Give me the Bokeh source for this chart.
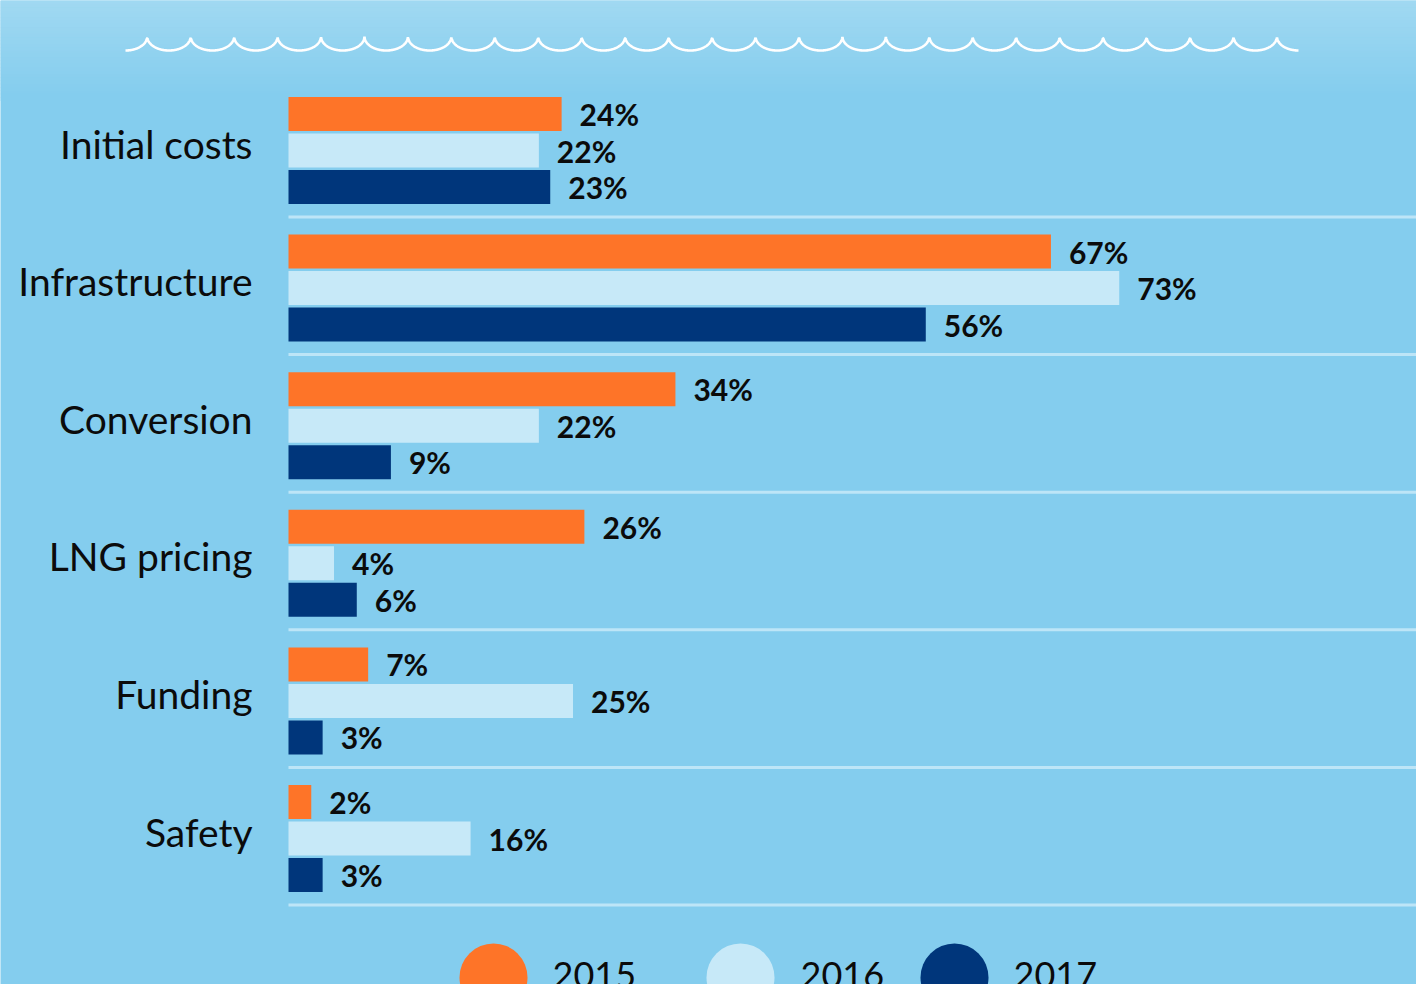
import numpy as np
from bokeh.plotting import figure
from bokeh.models import Range1d, ColumnDataSource
from bokeh.core.properties import value
from bokeh.embed import file_html
from bokeh.resources import INLINE

# ---- data ----
categories = ["Initial costs", "Infrastructure", "Conversion", "LNG pricing", "Funding", "Safety"]
years = ["2015", "2016", "2017"]
v2015 = [24, 67, 34, 26, 7, 2]
v2016 = [22, 73, 22, 4, 25, 16]
v2017 = [23, 56, 9, 6, 3, 3]
series = [v2015, v2016, v2017]
colors = ["#fe7428", "#c7e9f8", "#00367b"]

# ---- layout (canvas pixels) ----
W, H = 1416, 984
PX_PER_PCT = 11.38
X0 = 288.0                      # canvas x of 0 %
x_start = -X0 / PX_PER_PCT
x_end = (W - X0) / PX_PER_PCT


def px2x(cx):
    return (cx - X0) / PX_PER_PCT


GROUP_TOP = 96.0
GROUP_STEP = 137.6
BAR_OFFS = [17.5, 54.0, 90.5]
BAR_H = 34
SEP_OFF = 120.5

BG = "#84cdee"
TXT = "#0b0b0b"

p = figure(width=W, height=H, x_range=Range1d(x_start, x_end), y_range=Range1d(H, 0),
           output_backend="svg", toolbar_location=None, min_border=0)
p.axis.visible = False
p.grid.visible = False
p.outline_line_color = None
p.background_fill_color = BG
p.border_fill_color = BG

# background gradient at top
n_bands = 30
top_c = np.array([160, 217, 242])
bot_c = np.array([132, 205, 238])
edges = np.linspace(0, 100, n_bands + 1)
band_cols = []
for i in range(n_bands):
    t = i / (n_bands - 1)
    c = (top_c * (1 - t) + bot_c * t).astype(int)
    band_cols.append("#%02x%02x%02x" % tuple(c))
p.quad(left=x_start, right=x_end, top=edges[:-1], bottom=edges[1:] + 0.5,
       fill_color=band_cols, line_color=None)

# wave decoration
wx = np.linspace(125, 1298, 3000)
u = ((wx - 125) / 43.45) % 1.0
vph = (u + 0.5) % 1.0
wy = 36 + 14 * np.sqrt(np.clip(1 - (2 * vph - 1) ** 2, 0, 1))
p.line(px2x(wx), wy, line_color="white", line_width=2.6)

# bars
for si, vals in enumerate(series):
    ys = [GROUP_TOP + GROUP_STEP * k + BAR_OFFS[si] for k in range(len(categories))]
    src = ColumnDataSource(dict(y=ys, v=vals, lab=[f"{v}%" for v in vals]))
    p.hbar(y="y", left=0, right="v", height=BAR_H, source=src,
           fill_color=colors[si], line_color=None)
    p.text(x="v", y="y", text="lab", source=src, x_offset=18, y_offset=0,
           text_font=value("Lato"), text_font_style="bold", text_font_size="30px",
           text_color=TXT, text_baseline="middle", text_align="left")

# separators
sep_y = [GROUP_TOP + GROUP_STEP * k + SEP_OFF for k in range(len(categories))]
p.segment(x0=0, x1=x_end, y0=sep_y, y1=sep_y, line_color="#bde5f7", line_width=3)

# category labels
cat_y = [GROUP_TOP + GROUP_STEP * k + 47 for k in range(len(categories))]
p.text(x=px2x(252), y=cat_y, text=categories, text_font=value("Lato"),
       text_font_size="39px", text_color=TXT, text_baseline="middle", text_align="right")

# legend
leg_cx = [493, 740, 954]
leg_tx = [552, 800, 1013]
p.scatter(x=[px2x(c) for c in leg_cx], y=[977] * 3, size=68, marker="circle",
          fill_color=colors, line_color=None)
p.text(x=[px2x(c) for c in leg_tx], y=[961] * 3, text=years, text_font=value("Lato"),
       text_font_size="36px", text_color=TXT, text_baseline="top", text_align="left")

open("out.html", "w").write(file_html(p, INLINE))
